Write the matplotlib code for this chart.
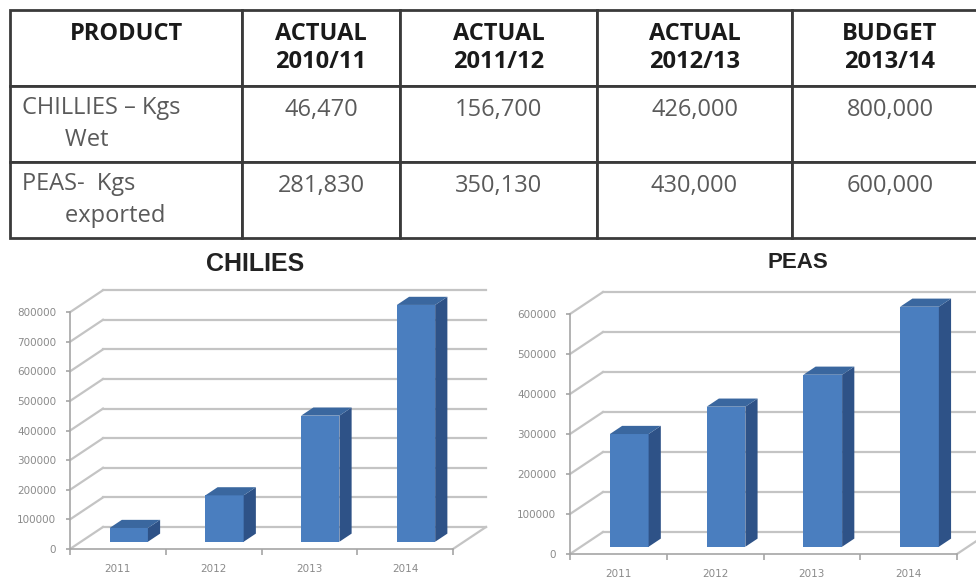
import matplotlib
matplotlib.use("Agg")
import matplotlib.pyplot as plt
from matplotlib.patches import Polygon
import numpy as np

# ---------------- data ----------------
headers = ["PRODUCT", "ACTUAL\n2010/11", "ACTUAL\n2011/12", "ACTUAL\n2012/13", "BUDGET\n2013/14"]
products = ["CHILLIES – Kgs\nWet", "PEAS-  Kgs\nexported"]
chillies = [46470, 156700, 426000, 800000]
peas = [281830, 350130, 430000, 600000]
years = ["2011", "2012", "2013", "2014"]
chart_titles = ["CHILIES", "PEAS"]
chilli_ticks = [0, 100000, 200000, 300000, 400000, 500000, 600000, 700000, 800000]
peas_ticks = [0, 100000, 200000, 300000, 400000, 500000, 600000]

W, H = 976, 579
fig = plt.figure(figsize=(W / 100, H / 100), dpi=100)

# ---------------- table ----------------
tax = fig.add_axes([0, 0, 1, 1])
tax.axis("off")
tax.set_xlim(0, 1)
tax.set_ylim(0, 1)

header_cells = [h if "\n" in h else h + "\n" for h in headers]
cell_text = []
for prod, vals in zip(products, [chillies, peas]):
    cell_text.append([prod.replace("\n", "\n" + " " * 7)] + [f"{v:,}\n" for v in vals])

col_px = [232, 158, 197, 195, 196]
tbl = tax.table(cellText=cell_text, colLabels=header_cells,
                colWidths=[c / W for c in col_px],
                bbox=[10 / W, 1 - 238 / H, sum(col_px) / W, 228 / H],
                cellLoc="center")
tbl.auto_set_font_size(False)
for (r, c), cell in tbl.get_celld().items():
    cell.set_edgecolor("#3a3a3a")
    cell.set_linewidth(2)
    t = cell.get_text()
    t.set_fontfamily("Open Sans")
    t.set_fontsize(17)
    t.set_linespacing(1.25)
    if r == 0:
        t.set_fontweight("bold")
        t.set_color("#1a1a1a")
    else:
        t.set_color("#5a5a5a")
        if c == 0:
            cell._loc = "left"
            cell.PAD = 0.05
            t.set_horizontalalignment("left")
            t.set_linespacing(1.45)

# ---------------- charts ----------------
FRONT = "#4a7ebf"
SIDE = "#2e5287"
TOP = "#3a679f"
GRID = "#c4c4c4"
AXC = "#a6a6a6"
depth_px = (33, 22)
bar_w = 0.4
f0 = 0.33
bd = 0.37


def chart(x0, y0, ppc, ppu, x1, ytop, values, ticks):
    ax = fig.add_axes([x0 / W, 1 - y0 / H, (x1 - x0) / W, (y0 - ytop) / H])
    ax.set_xlim(-0.5, -0.5 + (x1 - x0) / ppc)
    ax.set_ylim(0, (y0 - ytop) / ppu)
    ax.patch.set_alpha(0)
    dx = depth_px[0] / ppc
    dy = depth_px[1] / ppu
    n = len(values)
    xs = np.arange(n)
    xr = n - 0.5
    for t in ticks:
        ax.plot([-0.5, -0.5 + dx], [t, t + dy], color=GRID, lw=1.6, zorder=1, clip_on=False)
        ax.plot([-0.5 + dx, xr + dx], [t + dy, t + dy], color=GRID, lw=1.6, zorder=1, clip_on=False)
    ax.plot([xr, xr + dx], [0, dy], color=GRID, lw=1.6, zorder=1, clip_on=False)

    bars = ax.bar(xs + f0 * dx, values, width=bar_w, bottom=f0 * dy,
                  color=FRONT, zorder=3, clip_on=False)
    for b in bars:
        xl = b.get_x()
        xrr = xl + b.get_width()
        bot = b.get_y()
        top = bot + b.get_height()
        side = Polygon([(xrr, bot), (xrr, top), (xrr + bd * dx, top + bd * dy),
                        (xrr + bd * dx, bot + bd * dy)], closed=True,
                       facecolor=SIDE, edgecolor="none", zorder=3, clip_on=False)
        topp = Polygon([(xl, top), (xrr, top), (xrr + bd * dx, top + bd * dy),
                        (xl + bd * dx, top + bd * dy)], closed=True,
                       facecolor=TOP, edgecolor="none", zorder=3, clip_on=False)
        ax.add_patch(side)
        ax.add_patch(topp)

    for s in ["top", "right"]:
        ax.spines[s].set_visible(False)
    ax.spines["left"].set_bounds(0, ticks[-1])
    ax.spines["bottom"].set_bounds(-0.5, xr)
    for s in ["left", "bottom"]:
        ax.spines[s].set_color(AXC)
        ax.spines[s].set_linewidth(1.2)
        ax.spines[s].set_zorder(2)

    ax.set_yticks(ticks)
    ax.set_yticklabels([str(t) for t in ticks])
    ax.tick_params(axis="y", length=3, width=1.2, color=AXC, labelsize=7.5,
                   labelcolor="#8a8a8a", pad=7)
    ax.set_xticks(np.arange(-0.5, n, 1.0))
    ax.set_xticklabels([""] * (n + 1))
    ax.tick_params(axis="x", which="major", length=4, width=1.2, color=AXC, direction="out")
    ax.set_xticks(xs, minor=True)
    ax.set_xticklabels(years, minor=True)
    ax.tick_params(axis="x", which="minor", length=0, labelsize=7.5,
                   labelcolor="#8a8a8a", pad=11)
    return ax


chart(70, 549, 95.75, 29.6e-5, 500, 280, chillies, chilli_ticks)
chart(570, 554, 96.75, 40e-5, 976, 285, peas, peas_ticks)

fig.text(255 / W, 1 - 264 / H, chart_titles[0], ha="center", va="center",
         fontsize=18, fontweight="bold", family="Liberation Sans", color="#222222")
fig.text(798 / W, 1 - 262 / H, chart_titles[1], ha="center", va="center",
         fontsize=16, fontweight="bold", family="Liberation Sans", color="#222222")

fig.savefig("out.png", dpi=100, facecolor="white")
